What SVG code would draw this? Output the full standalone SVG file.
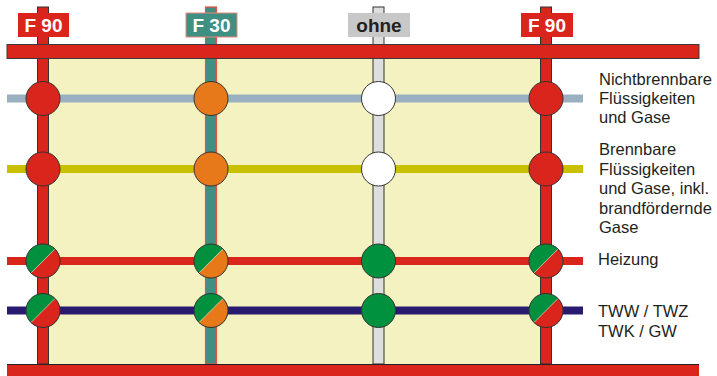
<svg xmlns="http://www.w3.org/2000/svg" width="717" height="376" viewBox="0 0 717 376">
<defs>
<style>
.bar{fill:#da251d;stroke:#3a3a3a;stroke-width:1}
.col{stroke:#333;stroke-width:1}
.c{stroke:#333;stroke-width:1}
.lbl{font-family:"Liberation Sans",Arial,sans-serif;font-weight:bold;font-size:19px;text-anchor:middle}
.txt{font-family:"Liberation Sans",Arial,sans-serif;font-size:16.5px;fill:#231f20}
.pipe{fill:none;stroke-width:8}
</style>
<clipPath id="cp"><circle r="17"/></clipPath>
<g id="split">
<g clip-path="url(#cp)">
<rect x="-18" y="-18" width="36" height="36" fill="#00913f"/>
<polygon points="-18,18 18,-18 18,18" fill="var(--b)"/>
<line x1="-18" y1="18" x2="18" y2="-18" stroke="#fff" stroke-width="0.8" opacity="0.7"/>
</g>
<circle r="17" fill="none" stroke="#333" stroke-width="1"/>
</g>
</defs>
<rect x="48" y="58" width="493" height="306" fill="#f5f2c2"/>
<g id="columns">
<rect class="col" x="37.5" y="7" width="11" height="357" fill="#da251d"/>
<rect x="205.5" y="7" width="11" height="357" fill="#3f9082" stroke="#e5533f" stroke-width="1.2"/>
<rect class="col" x="373" y="7" width="11" height="357" fill="#dedede"/>
<rect class="col" x="540.5" y="7" width="11" height="357" fill="#da251d"/>
</g>
<g id="bars">
<rect class="bar" x="7" y="44.5" width="692" height="14"/>
<rect x="7" y="364" width="692" height="12" fill="#da251d"/>
<line x1="7" y1="364.5" x2="699" y2="364.5" stroke="#222" stroke-width="1"/>
</g>
<g id="connectors">
<line class="pipe" x1="7" y1="98.5" x2="583" y2="98.5" stroke="#9aafbf"/>
<line class="pipe" x1="7" y1="169" x2="583" y2="169" stroke="#c9c100"/>
<line class="pipe" x1="7" y1="261" x2="583" y2="261" stroke="#da251d"/>
<line class="pipe" x1="7" y1="310.5" x2="583" y2="310.5" stroke="#281a6e"/>
</g>
<g id="labels">
<g id="lab-f90a"><rect x="18" y="13" width="51" height="24" fill="#da251d"/><text class="lbl" x="43.5" y="32" fill="#fff">F 90</text></g>
<g id="lab-f30"><rect x="186" y="13" width="51" height="24" fill="#3f9082" stroke="#e9887a" stroke-width="1"/><text class="lbl" x="211.5" y="32" fill="#fff">F 30</text></g>
<g id="lab-ohne"><rect x="348" y="13" width="62" height="24" fill="#c8c8c8"/><text class="lbl" x="379" y="32" fill="#231f20">ohne</text></g>
<g id="lab-f90b"><rect x="521" y="13" width="52" height="24" fill="#da251d"/><text class="lbl" x="547" y="32" fill="#fff">F 90</text></g>
</g>
<g id="row1">
<circle class="c" cx="43" cy="98.5" r="17" fill="#da251d"/>
<circle class="c" cx="211" cy="98.5" r="17" fill="#e8791a"/>
<circle class="c" cx="378.5" cy="98.5" r="17" fill="#fff"/>
<circle class="c" cx="546" cy="98.5" r="17" fill="#da251d"/>
</g>
<g id="row2">
<circle class="c" cx="43" cy="169" r="17" fill="#da251d"/>
<circle class="c" cx="211" cy="169" r="17" fill="#e8791a"/>
<circle class="c" cx="378.5" cy="169" r="17" fill="#fff"/>
<circle class="c" cx="546" cy="169" r="17" fill="#da251d"/>
</g>
<g id="row3">
<use href="#split" x="43" y="261" style="--b:#da251d"/>
<use href="#split" x="211" y="261" style="--b:#e8791a"/>
<circle class="c" cx="378.5" cy="261" r="17" fill="#00913f"/>
<use href="#split" x="546" y="261" style="--b:#da251d"/>
</g>
<g id="row4">
<use href="#split" x="43" y="310.5" style="--b:#da251d"/>
<use href="#split" x="211" y="310.5" style="--b:#e8791a"/>
<circle class="c" cx="378.5" cy="310.5" r="17" fill="#00913f"/>
<use href="#split" x="546" y="310.5" style="--b:#da251d"/>
</g>
<g id="legend">
<text class="txt" x="599" y="85">Nichtbrennbare</text>
<text class="txt" x="599" y="104">Flüssigkeiten</text>
<text class="txt" x="599" y="123">und Gase</text>
<text class="txt" x="599" y="155">Brennbare</text>
<text class="txt" x="599" y="174.5">Flüssigkeiten</text>
<text class="txt" x="599" y="194">und Gase, inkl.</text>
<text class="txt" x="599" y="213.5">brandfördernde</text>
<text class="txt" x="599" y="233">Gase</text>
<text class="txt" x="598" y="265">Heizung</text>
<text class="txt" x="598" y="316.5">TWW / TWZ</text>
<text class="txt" x="598" y="336.5">TWK / GW</text>
</g>
</svg>
